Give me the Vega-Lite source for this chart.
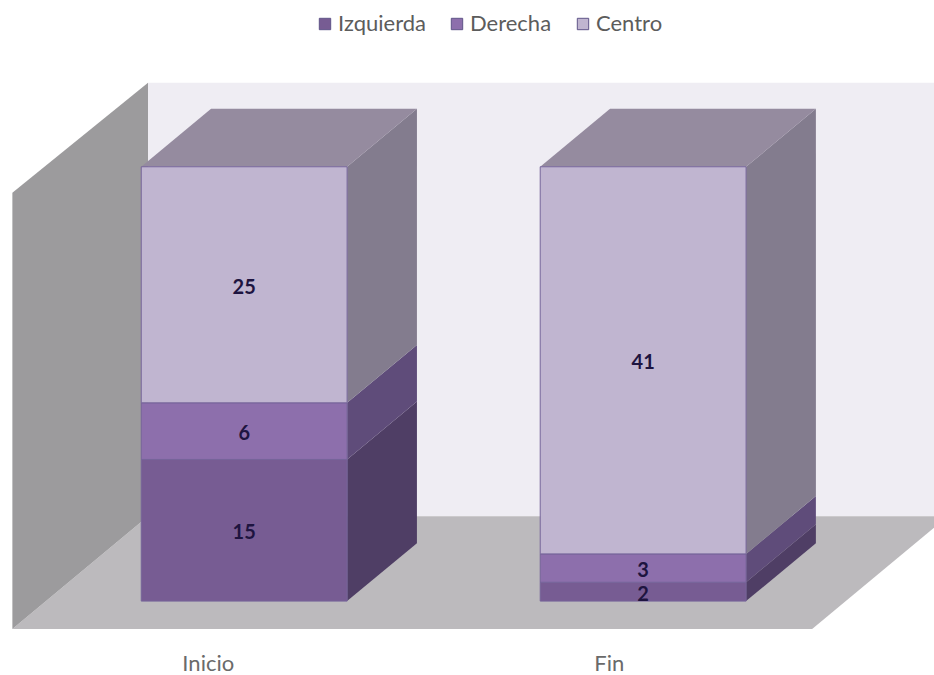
{
  "$schema": "https://vega.github.io/schema/vega-lite/v6.json",
  "autosize": {"type": "fit", "contains": "padding"},
  "width": 934,
  "height": 675,
  "padding": 0,
  "background": "#ffffff",
  "view": {"stroke": null},
  "config": {"font": "Lato"},
  "datasets": {
    "barras": [
      {"periodo": "Inicio", "serie": "Izquierda", "valor": 15},
      {"periodo": "Inicio", "serie": "Derecha", "valor": 6},
      {"periodo": "Inicio", "serie": "Centro", "valor": 25},
      {"periodo": "Fin", "serie": "Izquierda", "valor": 2},
      {"periodo": "Fin", "serie": "Derecha", "valor": 3},
      {"periodo": "Fin", "serie": "Centro", "valor": 41}
    ],
    "fondo": [{"a": 0.759, "b": 2.729, "c": 8.99, "d": 54.9}],
    "suelo": [
      {"nivel": -2.96, "a": 0.419, "b": 2.4236},
      {"nivel": 8.99, "a": 0.759, "b": 2.764}
    ],
    "pared": [
      {"pos": 0.419, "c": -2.96, "d": 43.25},
      {"pos": 0.759, "c": 8.99, "d": 54.9}
    ],
    "periodos": [{"periodo": "Inicio", "pos": 0.91}, {"periodo": "Fin", "pos": 1.915}]
  },
  "layer": [
    {
      "data": {"name": "fondo"},
      "mark": {"type": "rect", "fill": "#efedf3", "clip": true},
      "encoding": {
        "x": {"field": "a", "type": "quantitative", "scale": {"domain": [0.388, 2.729], "nice": false, "zero": false}, "axis": null},
        "x2": {"field": "b"},
        "y": {"field": "c", "type": "quantitative", "scale": {"domain": [-7.72, 63.66], "nice": false, "zero": false}, "axis": null},
        "y2": {"field": "d"}
      }
    },
    {
      "data": {"name": "suelo"},
      "mark": {"type": "area", "orient": "horizontal", "fill": "#bcbabd", "clip": true},
      "encoding": {
        "y": {"field": "nivel", "type": "quantitative", "axis": null},
        "x": {"field": "a", "type": "quantitative", "stack": null, "axis": null},
        "x2": {"field": "b"}
      }
    },
    {
      "data": {"name": "pared"},
      "mark": {"type": "area", "orient": "vertical", "fill": "#9c9b9d"},
      "encoding": {
        "x": {"field": "pos", "type": "quantitative", "axis": null},
        "y": {"field": "c", "type": "quantitative", "stack": null, "axis": null},
        "y2": {"field": "d"}
      }
    },
    {
      "data": {"name": "barras"},
      "transform": [
        {"calculate": "indexof(['Izquierda','Derecha','Centro'], datum.serie)", "as": "orden"},
        {"stack": "valor", "groupby": ["periodo"], "sort": [{"field": "orden", "order": "ascending"}], "as": ["v0", "v1"]},
        {"calculate": "datum.periodo == 'Inicio' ? 1 : 2", "as": "centro"},
        {"calculate": "0", "as": "frente"},
        {"calculate": "1", "as": "fondoBarra"},
        {"fold": ["frente", "fondoBarra"], "as": ["cara", "prof"]},
        {"calculate": "datum.centro + 0.258 + datum.prof * 0.175", "as": "xLado"},
        {"calculate": "datum.v0 + datum.prof * 6.13", "as": "yLado0"},
        {"calculate": "datum.v1 + datum.prof * 6.13", "as": "yLado1"}
      ],
      "mark": {"type": "area", "orient": "vertical"},
      "encoding": {
        "x": {"field": "xLado", "type": "quantitative", "axis": null},
        "y": {"field": "yLado0", "type": "quantitative", "stack": null, "axis": null},
        "y2": {"field": "yLado1"},
        "detail": {"field": "periodo"},
        "fill": {
          "field": "serie",
          "type": "nominal",
          "scale": {"domain": ["Izquierda", "Derecha", "Centro"], "range": ["#4f3e65", "#5f4c7a", "#837c8e"]},
          "legend": null
        }
      }
    },
    {
      "data": {"name": "barras"},
      "transform": [
        {"calculate": "indexof(['Izquierda','Derecha','Centro'], datum.serie)", "as": "orden"},
        {"stack": "valor", "groupby": ["periodo"], "sort": [{"field": "orden", "order": "ascending"}], "as": ["v0", "v1"]},
        {"filter": "datum.serie == 'Centro'"},
        {"calculate": "datum.periodo == 'Inicio' ? 1 : 2", "as": "centro"},
        {"calculate": "0", "as": "frente"},
        {"calculate": "1", "as": "fondoBarra"},
        {"fold": ["frente", "fondoBarra"], "as": ["cara", "prof"]},
        {"calculate": "datum.v1 + datum.prof * 6.13", "as": "yTapa"},
        {"calculate": "datum.centro - 0.258 + datum.prof * 0.175", "as": "xTapa0"},
        {"calculate": "datum.centro + 0.258 + datum.prof * 0.175", "as": "xTapa1"}
      ],
      "mark": {"type": "area", "orient": "horizontal", "fill": "#958b9f"},
      "encoding": {
        "y": {"field": "yTapa", "type": "quantitative", "axis": null},
        "x": {"field": "xTapa0", "type": "quantitative", "stack": null, "axis": null},
        "x2": {"field": "xTapa1"},
        "detail": {"field": "periodo"}
      }
    },
    {
      "data": {"name": "barras"},
      "transform": [
        {"calculate": "indexof(['Izquierda','Derecha','Centro'], datum.serie)", "as": "orden"},
        {"stack": "valor", "groupby": ["periodo"], "sort": [{"field": "orden", "order": "ascending"}], "as": ["v0", "v1"]},
        {"calculate": "(datum.periodo == 'Inicio' ? 1 : 2) - 0.258", "as": "x0"},
        {"calculate": "(datum.periodo == 'Inicio' ? 1 : 2) + 0.258", "as": "x1"}
      ],
      "mark": {"type": "rect", "stroke": "#76659a", "strokeWidth": 1},
      "encoding": {
        "x": {"field": "x0", "type": "quantitative", "axis": null},
        "x2": {"field": "x1"},
        "y": {"field": "v0", "type": "quantitative", "axis": null},
        "y2": {"field": "v1"},
        "color": {
          "field": "serie",
          "type": "nominal",
          "scale": {"domain": ["Izquierda", "Derecha", "Centro"], "range": ["#775c93", "#8d6fac", "#c0b5d0"]},
          "legend": {
            "orient": "none",
            "legendX": 314,
            "legendY": 13,
            "direction": "horizontal",
            "title": null,
            "columns": 3,
            "symbolType": "square",
            "symbolSize": 130,
            "symbolStrokeColor": "#5f5488",
            "symbolStrokeWidth": 1,
            "labelFontSize": 22,
            "labelFont": "Lato",
            "labelColor": "#5c5c5c",
            "labelOffset": 2,
            "columnPadding": 20
          }
        }
      }
    },
    {
      "data": {"name": "barras"},
      "transform": [
        {"calculate": "indexof(['Izquierda','Derecha','Centro'], datum.serie)", "as": "orden"},
        {"stack": "valor", "groupby": ["periodo"], "sort": [{"field": "orden", "order": "ascending"}], "as": ["v0", "v1"]},
        {"calculate": "datum.periodo == 'Inicio' ? 1 : 2", "as": "centro"},
        {"calculate": "(datum.v0 + datum.v1) / 2", "as": "medio"}
      ],
      "mark": {"type": "text", "font": "Lato", "fontWeight": "bold", "fontSize": 20, "color": "#1e1440", "baseline": "middle", "dy": 3},
      "encoding": {
        "x": {"field": "centro", "type": "quantitative", "axis": null},
        "y": {"field": "medio", "type": "quantitative", "axis": null},
        "text": {"field": "valor", "type": "quantitative"}
      }
    },
    {
      "data": {"name": "periodos"},
      "mark": {"type": "text", "font": "Lato", "fontSize": 22, "color": "#6a6a6a", "baseline": "middle"},
      "encoding": {
        "x": {"field": "pos", "type": "quantitative", "axis": null},
        "y": {"datum": -6.65, "type": "quantitative", "axis": null},
        "text": {"field": "periodo", "type": "nominal"}
      }
    }
  ],
  "resolve": {"scale": {"fill": "independent", "color": "independent"}}
}
